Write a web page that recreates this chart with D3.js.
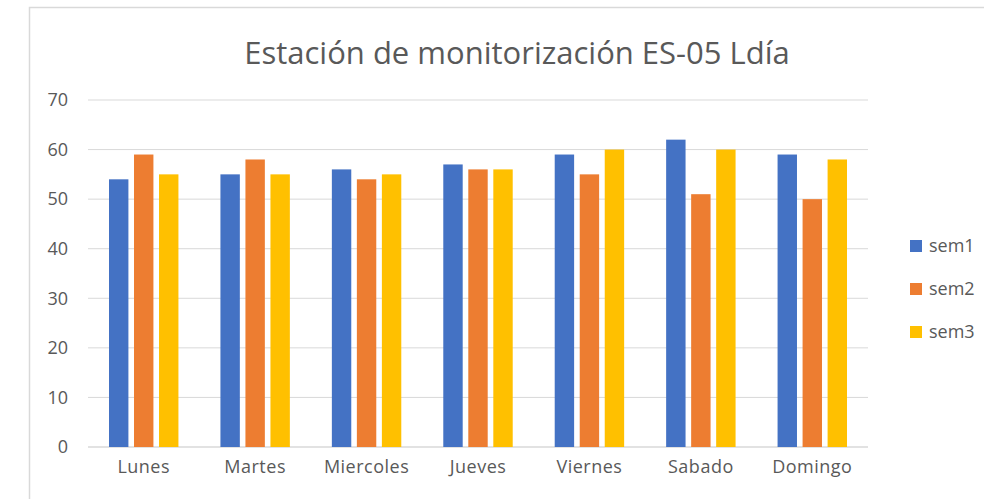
<!DOCTYPE html>
<html>
<head>
<meta charset="utf-8">
<script src="https://cdn.jsdelivr.net/npm/d3@7"></script>
<style>
  body { margin: 0; background: #fff; }
  text { font-family: "Open Sans", "Noto Sans", sans-serif; fill: #595959; }
</style>
</head>
<body>
<div id="chart"></div>
<script>
var days = ["Lunes", "Martes", "Miercoles", "Jueves", "Viernes", "Sabado", "Domingo"];
var seriesNames = ["sem1", "sem2", "sem3"];
var sem1 = [54, 55, 56, 57, 59, 62, 59];
var sem2 = [59, 58, 54, 56, 55, 51, 50];
var sem3 = [55, 55, 55, 56, 60, 60, 58];
var yTicks = [0, 10, 20, 30, 40, 50, 60, 70];
var colors = ["#4472c4", "#ed7d31", "#ffc000"];

var width = 984;
var height = 499;
var plotLeft = 88, plotRight = 868, plotTop = 100, plotBottom = 447;

var values = [sem1, sem2, sem3];

var svg = d3.select("#chart")
    .append("svg")
        .attr("width", width)
        .attr("height", height);

// chart frame
svg.append("path")
    .attr("d", "M29.5," + height + "V7.5H" + width)
    .attr("fill", "none")
    .attr("stroke", "#d9d9d9")
    .attr("stroke-width", 1.5);

var xScale = d3.scaleBand()
    .domain(days)
    .range([plotLeft, plotRight]);

var xInner = d3.scaleBand()
    .domain(seriesNames)
    .range([21, xScale.bandwidth() - 21])
    .paddingInner(0.224);

var yScale = d3.scaleLinear()
    .domain([0, 70])
    .range([plotBottom, plotTop]);

// gridlines
svg.append("g")
    .selectAll("line")
    .data(yTicks)
    .join("line")
        .attr("x1", plotLeft)
        .attr("x2", plotRight)
        .attr("y1", function (d) { return yScale(d); })
        .attr("y2", function (d) { return yScale(d); })
        .attr("stroke", "#d9d9d9")
        .attr("stroke-width", function (d) { return d === 0 ? 1.5 : 1; });

var yAxis = d3.axisLeft(yScale)
    .tickValues(yTicks)
    .tickSize(0)
    .tickPadding(20);

svg.append("g")
        .attr("transform", "translate(" + plotLeft + ",0)")
    .call(yAxis)
    .call(function (g) { g.select(".domain").remove(); })
    .selectAll("text")
        .attr("font-family", null)
        .attr("font-size", 18)
        .attr("fill", "#595959");

var xAxis = d3.axisBottom(xScale)
    .tickSize(0)
    .tickPadding(13);

svg.append("g")
        .attr("transform", "translate(0," + plotBottom + ")")
    .call(xAxis)
    .call(function (g) { g.select(".domain").remove(); })
    .selectAll("text")
        .attr("font-family", null)
        .attr("font-size", 18)
        .attr("letter-spacing", 0.5)
        .attr("fill", "#595959");

// bars
seriesNames.forEach(function (s, i) {
    svg.append("g")
        .selectAll("rect")
        .data(values[i])
        .join("rect")
            .attr("x", function (d, j) { return xScale(days[j]) + xInner(s); })
            .attr("y", function (d) { return yScale(d); })
            .attr("width", xInner.bandwidth())
            .attr("height", function (d) { return plotBottom - yScale(d); })
            .attr("fill", colors[i]);
});

// title
svg.append("text")
    .attr("x", 517)
    .attr("y", 64)
    .attr("text-anchor", "middle")
    .attr("font-size", 31)
    .text("Estación de monitorización ES-05 Ldía");

// legend
var legend = svg.append("g")
    .selectAll("g")
    .data(seriesNames)
    .join("g")
        .attr("transform", function (d, i) { return "translate(910," + (240 + i * 43) + ")"; });

legend.append("rect")
    .attr("width", 12)
    .attr("height", 12)
    .attr("fill", function (d, i) { return colors[i]; });

legend.append("text")
    .attr("x", 19)
    .attr("y", 6)
    .attr("dy", "0.35em")
    .attr("font-size", 18)
    .text(function (d) { return d; });
</script>
</body>
</html>
